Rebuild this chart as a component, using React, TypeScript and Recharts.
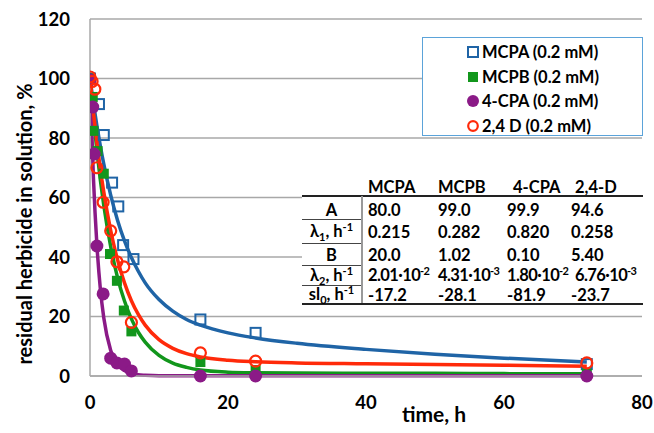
import React from 'react';
import { ComposedChart, Line, Scatter, XAxis, YAxis, CartesianGrid } from 'recharts';

// measured points (time h, residual %)
const mcpaT = [0, 1.3, 2, 3.2, 4.1, 4.8, 6.3, 16, 24, 72];
const mcpaV = [100, 91.4, 81, 65, 57, 44, 39.3, 19, 14.5, 4];
const mcpbT = [0, 0.4, 0.5, 1.1, 2, 2.9, 3.9, 4.9, 6, 16, 24, 72];
const mcpbV = [100, 93.8, 82.4, 75.6, 68, 41, 32, 22, 15, 4.7, 2, 0.8];
const cpaT = [0, 0.4, 0.6, 1, 1.9, 3, 3.9, 5, 6, 16, 24, 72];
const cpaV = [99.5, 90.4, 74.6, 43.7, 27.6, 6, 4.4, 4, 1.7, 0, 0, 0];
const d24T = [0, 0.3, 0.7, 1, 1.9, 3, 3.9, 4.9, 6, 16, 24, 72];
const d24V = [100.5, 99, 96.4, 70, 58.4, 48.8, 38.4, 36.7, 18, 7.8, 5, 4.4];

// fitted curves
const fitT = [0, 0.5, 1, 1.5, 2, 3, 4, 5, 6, 7, 8, 10, 12, 14, 16, 20, 24, 30, 40, 50, 60, 72];
const mcpaFit = [100, 91.6, 84.1, 77.3, 71.2, 60.8, 52.3, 45.4, 39.8, 35.2, 31.3, 25.7, 21.8, 19.0, 17.1, 14.5, 12.8, 11.0, 8.95, 7.3, 6.0, 4.7];
const mcpbFit = [100, 87.0, 75.7, 65.9, 57.3, 43.5, 33.0, 25.2, 19.2, 14.7, 11.4, 6.9, 4.3, 2.9, 2.0, 1.3, 1.1, 1.0, 0.95, 0.9, 0.8, 0.75];
const cpaFit = [100, 66.4, 44.1, 29.3, 19.5, 8.6, 3.9, 1.8, 0.8, 0.4, 0.25, 0.1, 0.1, 0.1, 0.1, 0.1, 0.1, 0.1, 0.1, 0.1, 0.1, 0.1];
const d24Fit = [100, 88.6, 78.5, 69.6, 61.8, 48.9, 39.0, 31.3, 25.3, 20.7, 17.1, 12.2, 9.3, 7.5, 6.4, 5.3, 4.8, 4.41, 4.12, 3.85, 3.6, 3.3];

const yTicks = [0, 20, 40, 60, 80, 100, 120];
const xTicks = [0, 20, 40, 60, 80];

const legendNames = ['MCPA (0.2 mM)', 'MCPB (0.2 mM)', '4-CPA (0.2 mM)', '2,4 D (0.2 mM)'];

const tableCols = ['MCPA', 'MCPB', '4-CPA', '2,4-D'];
const rowA = ['80.0', '99.0', '99.9', '94.6'];
const rowL1 = ['0.215', '0.282', '0.820', '0.258'];
const rowB = ['20.0', '1.02', '0.10', '5.40'];
const rowL2m = ['2.01', '4.31', '1.80', '6.76'];
const rowL2e = ['-2', '-3', '-2', '-3'];
const rowSl = ['-17.2', '-28.1', '-81.9', '-23.7'];

const BLUE = '#1f64a6';
const GREEN = '#12961c';
const PURPLE = '#8b1a87';
const RED = '#ff2a0a';
const GRID = '#a8a8a8';
const FONT = 'Lato, "Open Sans", sans-serif';

const pts = (t: number[], v: number[]) => t.map((x, i) => ({ t: x, v: v[i] }));

const OpenSquare = (p: any) => (
  <rect x={p.cx - 5} y={p.cy - 5} width={10} height={10} fill="none" stroke={BLUE} strokeWidth={2} />
);
const FilledSquare = (p: any) => (
  <rect x={p.cx - 5} y={p.cy - 5} width={10} height={10} fill={GREEN} />
);
const FilledCircle = (p: any) => <circle cx={p.cx} cy={p.cy} r={6.5} fill={PURPLE} />;
const OpenCircle = (p: any) => (
  <circle cx={p.cx} cy={p.cy} r={5.5} fill="none" stroke={RED} strokeWidth={2.2} />
);

const legendIcons = [
  <rect x={1} y={1} width={10} height={10} fill="none" stroke={BLUE} strokeWidth={2} />,
  <rect x={1} y={1} width={10} height={10} fill={GREEN} />,
  <circle cx={6} cy={6} r={6} fill={PURPLE} />,
  <circle cx={6} cy={6} r={4.8} fill="none" stroke={RED} strokeWidth={2.2} />,
];

const tick = { fontSize: 18.5, fontWeight: 700, fill: '#000', fontFamily: FONT };

const cellX = [368, 438, 507, 575];
const rowY = [187, 210, 232, 255, 276, 295];
const labelLines = [219, 243, 265, 285];

const Sup = ({ children }: { children: React.ReactNode }) => (
  <span style={{ fontSize: 11, position: 'relative', top: -6 }}>{children}</span>
);
const Sub = ({ children }: { children: React.ReactNode }) => (
  <span style={{ fontSize: 11, position: 'relative', top: 4 }}>{children}</span>
);

function ParamTable() {
  const txt: React.CSSProperties = {
    position: 'absolute',
    fontSize: 16.5,
    fontWeight: 700,
    whiteSpace: 'nowrap',
    transform: 'translateY(-50%)',
    lineHeight: '18px',
  };
  const rows: React.ReactNode[][] = [
    rowA,
    rowL1,
    rowB,
    rowL2m.map((m, i) => (
      <span style={{ fontSize: 16.5, letterSpacing: -0.6 }}>
        {m}·10<Sup>{rowL2e[i]}</Sup>
      </span>
    )),
    rowSl,
  ];
  const labels: React.ReactNode[] = [
    'A',
    <>λ<Sub>1</Sub>, h<Sup>-1</Sup></>,
    'B',
    <>λ<Sub>2</Sub>, h<Sup>-1</Sup></>,
    <>sl<Sub>0</Sub>, h<Sup>-1</Sup></>,
  ];
  return (
    <div style={{ position: 'absolute', left: 0, top: 0, width: 654, height: 433, pointerEvents: 'none' }}>
      <div style={{ position: 'absolute', left: 302, top: 176, width: 341, height: 130, background: '#fff' }} />
      {tableCols.map((c, i) => (
        <div key={c} style={{ ...txt, left: cellX[i] + (i === 2 ? 6 : 0), top: rowY[0] }}>{c}</div>
      ))}
      <div style={{ position: 'absolute', left: 302, top: 195, width: 341, height: 1.5, background: '#222' }} />
      <div style={{ position: 'absolute', left: 361, top: 196, width: 1.5, height: 107, background: '#999' }} />
      {labelLines.map((y) => (
        <div key={y} style={{ position: 'absolute', left: 302, top: y, width: 59, height: 1, background: '#444' }} />
      ))}
      <div style={{ position: 'absolute', left: 302, top: 303, width: 341, height: 2, background: '#222' }} />
      {labels.map((l, r) => (
        <div key={r} style={{ ...txt, left: 302, width: 59, textAlign: 'center', top: rowY[r + 1] }}>{l}</div>
      ))}
      {rows.map((row, r) =>
        row.map((v, i) => (
          <div key={`${r}-${i}`} style={{ ...txt, left: cellX[i] - (i === 3 && r !== 3 ? 4 : 0), top: rowY[r + 1] }}>{v}</div>
        ))
      )}
    </div>
  );
}

export default function App() {
  return (
    <div style={{ position: 'absolute', left: 0, top: 0, width: 654, height: 433, background: '#fff', fontFamily: FONT }}>
      <ComposedChart width={654} height={433} margin={{ top: 19, right: 12, left: 0, bottom: 0 }}>
        <CartesianGrid vertical={false} stroke={GRID} strokeWidth={1.5} />
        <XAxis
          type="number"
          dataKey="t"
          domain={[0, 80]}
          ticks={xTicks}
          height={57}
          tickLine={false}
          tickMargin={14}
          axisLine={{ stroke: GRID, strokeWidth: 1.5 }}
          tick={tick}
          allowDataOverflow
        />
        <YAxis
          type="number"
          dataKey="v"
          domain={[0, 120]}
          ticks={yTicks}
          width={90}
          tickLine={false}
          tickMargin={14}
          axisLine={{ stroke: GRID, strokeWidth: 1.5 }}
          tick={tick}
        />
        <Line data={pts(fitT, mcpaFit)} dataKey="v" type="monotone" stroke={BLUE} strokeWidth={3.5} dot={false} isAnimationActive={false} />
        <Scatter data={pts(mcpaT, mcpaV)} dataKey="v" shape={OpenSquare} isAnimationActive={false} />
        <Line data={pts(fitT, mcpbFit)} dataKey="v" type="monotone" stroke={GREEN} strokeWidth={3.5} dot={false} isAnimationActive={false} />
        <Scatter data={pts(mcpbT, mcpbV)} dataKey="v" shape={FilledSquare} isAnimationActive={false} />
        <Line data={pts(fitT, cpaFit)} dataKey="v" type="monotone" stroke={PURPLE} strokeWidth={3.5} dot={false} isAnimationActive={false} />
        <Scatter data={pts(cpaT, cpaV)} dataKey="v" shape={FilledCircle} isAnimationActive={false} />
        <Line data={pts(fitT, d24Fit)} dataKey="v" type="monotone" stroke={RED} strokeWidth={3.5} dot={false} isAnimationActive={false} />
        <Scatter data={pts(d24T, d24V)} dataKey="v" shape={OpenCircle} isAnimationActive={false} />
      </ComposedChart>

      <div
        style={{
          position: 'absolute',
          left: 24,
          top: 224,
          transform: 'translate(-50%, -50%) rotate(-90deg)',
          fontSize: 20,
          fontWeight: 700,
          whiteSpace: 'nowrap',
        }}
      >
        residual herbicide in solution, %
      </div>
      <div
        style={{
          position: 'absolute',
          left: 434,
          top: 413,
          transform: 'translate(-50%, -50%)',
          fontSize: 21,
          fontWeight: 700,
          whiteSpace: 'nowrap',
        }}
      >
        time, h
      </div>

      <div
        style={{
          position: 'absolute',
          left: 422,
          top: 37,
          width: 219,
          height: 97,
          border: '1.5px solid #5ba3d9',
          background: '#fff',
        }}
      >
        {legendNames.map((n, i) => (
          <div
            key={n}
            style={{ position: 'absolute', left: 44, top: 14 + i * 24.6, transform: 'translateY(-50%)', display: 'flex', alignItems: 'center', whiteSpace: 'nowrap', fontSize: 16.5, fontWeight: 700 }}
          >
            <svg width={12} height={12} style={{ marginRight: 3 }}>{legendIcons[i]}</svg>
            {n}
          </div>
        ))}
      </div>

      <ParamTable />
    </div>
  );
}
